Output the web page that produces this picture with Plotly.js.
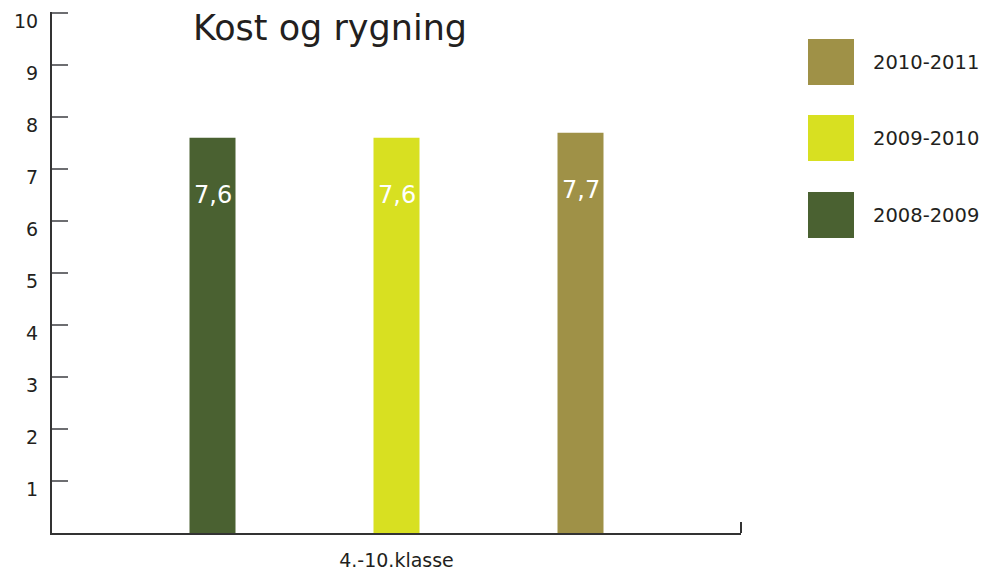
<!DOCTYPE html>
<html>
<head>
<meta charset="utf-8">
<script src="https://cdn.plot.ly/plotly-3.0.1.min.js"></script>
<style>html,body{margin:0;padding:0;background:#fff;}#chart{width:989px;height:571px;}</style>
</head>
<body>
<div id="chart"></div>
<script>
const category = ['4.-10.klasse'];
const seriesNames = ['2008-2009', '2009-2010', '2010-2011'];
const values2008 = [7.6];
const values2009 = [7.6];
const values2010 = [7.7];
const seriesValues = [values2008, values2009, values2010];
const colors = ['#4a6131', '#d8e021', '#9f9147'];
const yTickVals = [0,1,2,3,4,5,6,7,8,9,10];
const yTickText = ['', '1','2','3','4','5','6','7','8','9','10'];

const FONT = 'DejaVu Sans, sans-serif';
const barW = 46/689;
const slot = 184/689;
const plotH = 521;
const yMax = 10.02;

const traces = seriesValues.map((vals, i) => ({
  type: 'bar',
  x: category,
  y: vals,
  name: seriesNames[i],
  marker: {color: colors[i], line: {width: 0}},
  width: barW,
  offset: (i-1)*slot - barW/2,
  showlegend: false,
  hoverinfo: 'none'
}));

const annotations = [];
seriesValues.forEach((vals, i) => {
  vals.forEach((v, j) => {
    annotations.push({
      x: category[j], y: v - 1.1, xref: 'x', yref: 'y',
      xshift: (i-1)*184,
      text: v.toFixed(1).replace('.', ','),
      showarrow: false,
      font: {family: FONT, size: 24, color: '#ffffff'},
      xanchor: 'center', yanchor: 'middle'
    });
  });
});

// legend drawn manually (large swatches), top = last series
const shapes = [];
const legTopPx = [39, 115, 192];
for (let k = 0; k < 3; k++) {
  const idx = 2 - k;
  const y1 = (533 - legTopPx[k]) / plotH;
  const y0 = (533 - legTopPx[k] - 46) / plotH;
  shapes.push({
    type: 'rect', xref: 'paper', yref: 'paper',
    x0: (808-52)/689, x1: (854-52)/689,
    y0: y0, y1: y1,
    fillcolor: colors[idx], line: {width: 0}
  });
  annotations.push({
    xref: 'paper', yref: 'paper',
    x: (871-52)/689, y: (y0 + y1) / 2,
    text: seriesNames[idx], showarrow: false,
    xanchor: 'left', yanchor: 'middle',
    font: {family: FONT, size: 19.5, color: '#231f20'}
  });
}

// small upward tick at the right end of the x axis
shapes.push({
  type: 'line', xref: 'paper', yref: 'paper', ysizemode: 'pixel', yanchor: 0,
  x0: 1, x1: 1, y0: 0, y1: 11,
  line: {color: '#333333', width: 2}
});

const layout = {
  width: 989, height: 571,
  margin: {l: 52, r: 248, t: 12, b: 38, pad: 0},
  paper_bgcolor: '#ffffff', plot_bgcolor: '#ffffff',
  barmode: 'overlay',
  showlegend: false,
  title: {
    text: 'Kost og rygning',
    x: 330/989, xanchor: 'center', xref: 'container',
    y: 1 - 28/571, yanchor: 'middle', yref: 'container',
    font: {family: FONT, size: 35, color: '#231f20'}
  },
  xaxis: {
    type: 'category',
    range: [-0.5, 0.5],
    showgrid: false, zeroline: false,
    showline: true, linecolor: '#333333', linewidth: 2,
    ticks: '',
    tickfont: {family: FONT, size: 19, color: '#231f20'},
    ticklabelstandoff: 9,
    fixedrange: true
  },
  yaxis: {
    range: [0, yMax],
    tickvals: yTickVals, ticktext: yTickText,
    showgrid: false, zeroline: false,
    showline: true, linecolor: '#333333', linewidth: 2,
    ticks: 'inside', ticklen: 16, tickwidth: 2, tickcolor: '#6d6e71',
    tickfont: {family: FONT, size: 19, color: '#231f20'},
    ticklabelstandoff: 8,
    ticklabelshift: 8,
    fixedrange: true
  },
  shapes: shapes,
  annotations: annotations
};

Plotly.newPlot('chart', traces, layout, {displayModeBar: false, staticPlot: true});
</script>
</body>
</html>
